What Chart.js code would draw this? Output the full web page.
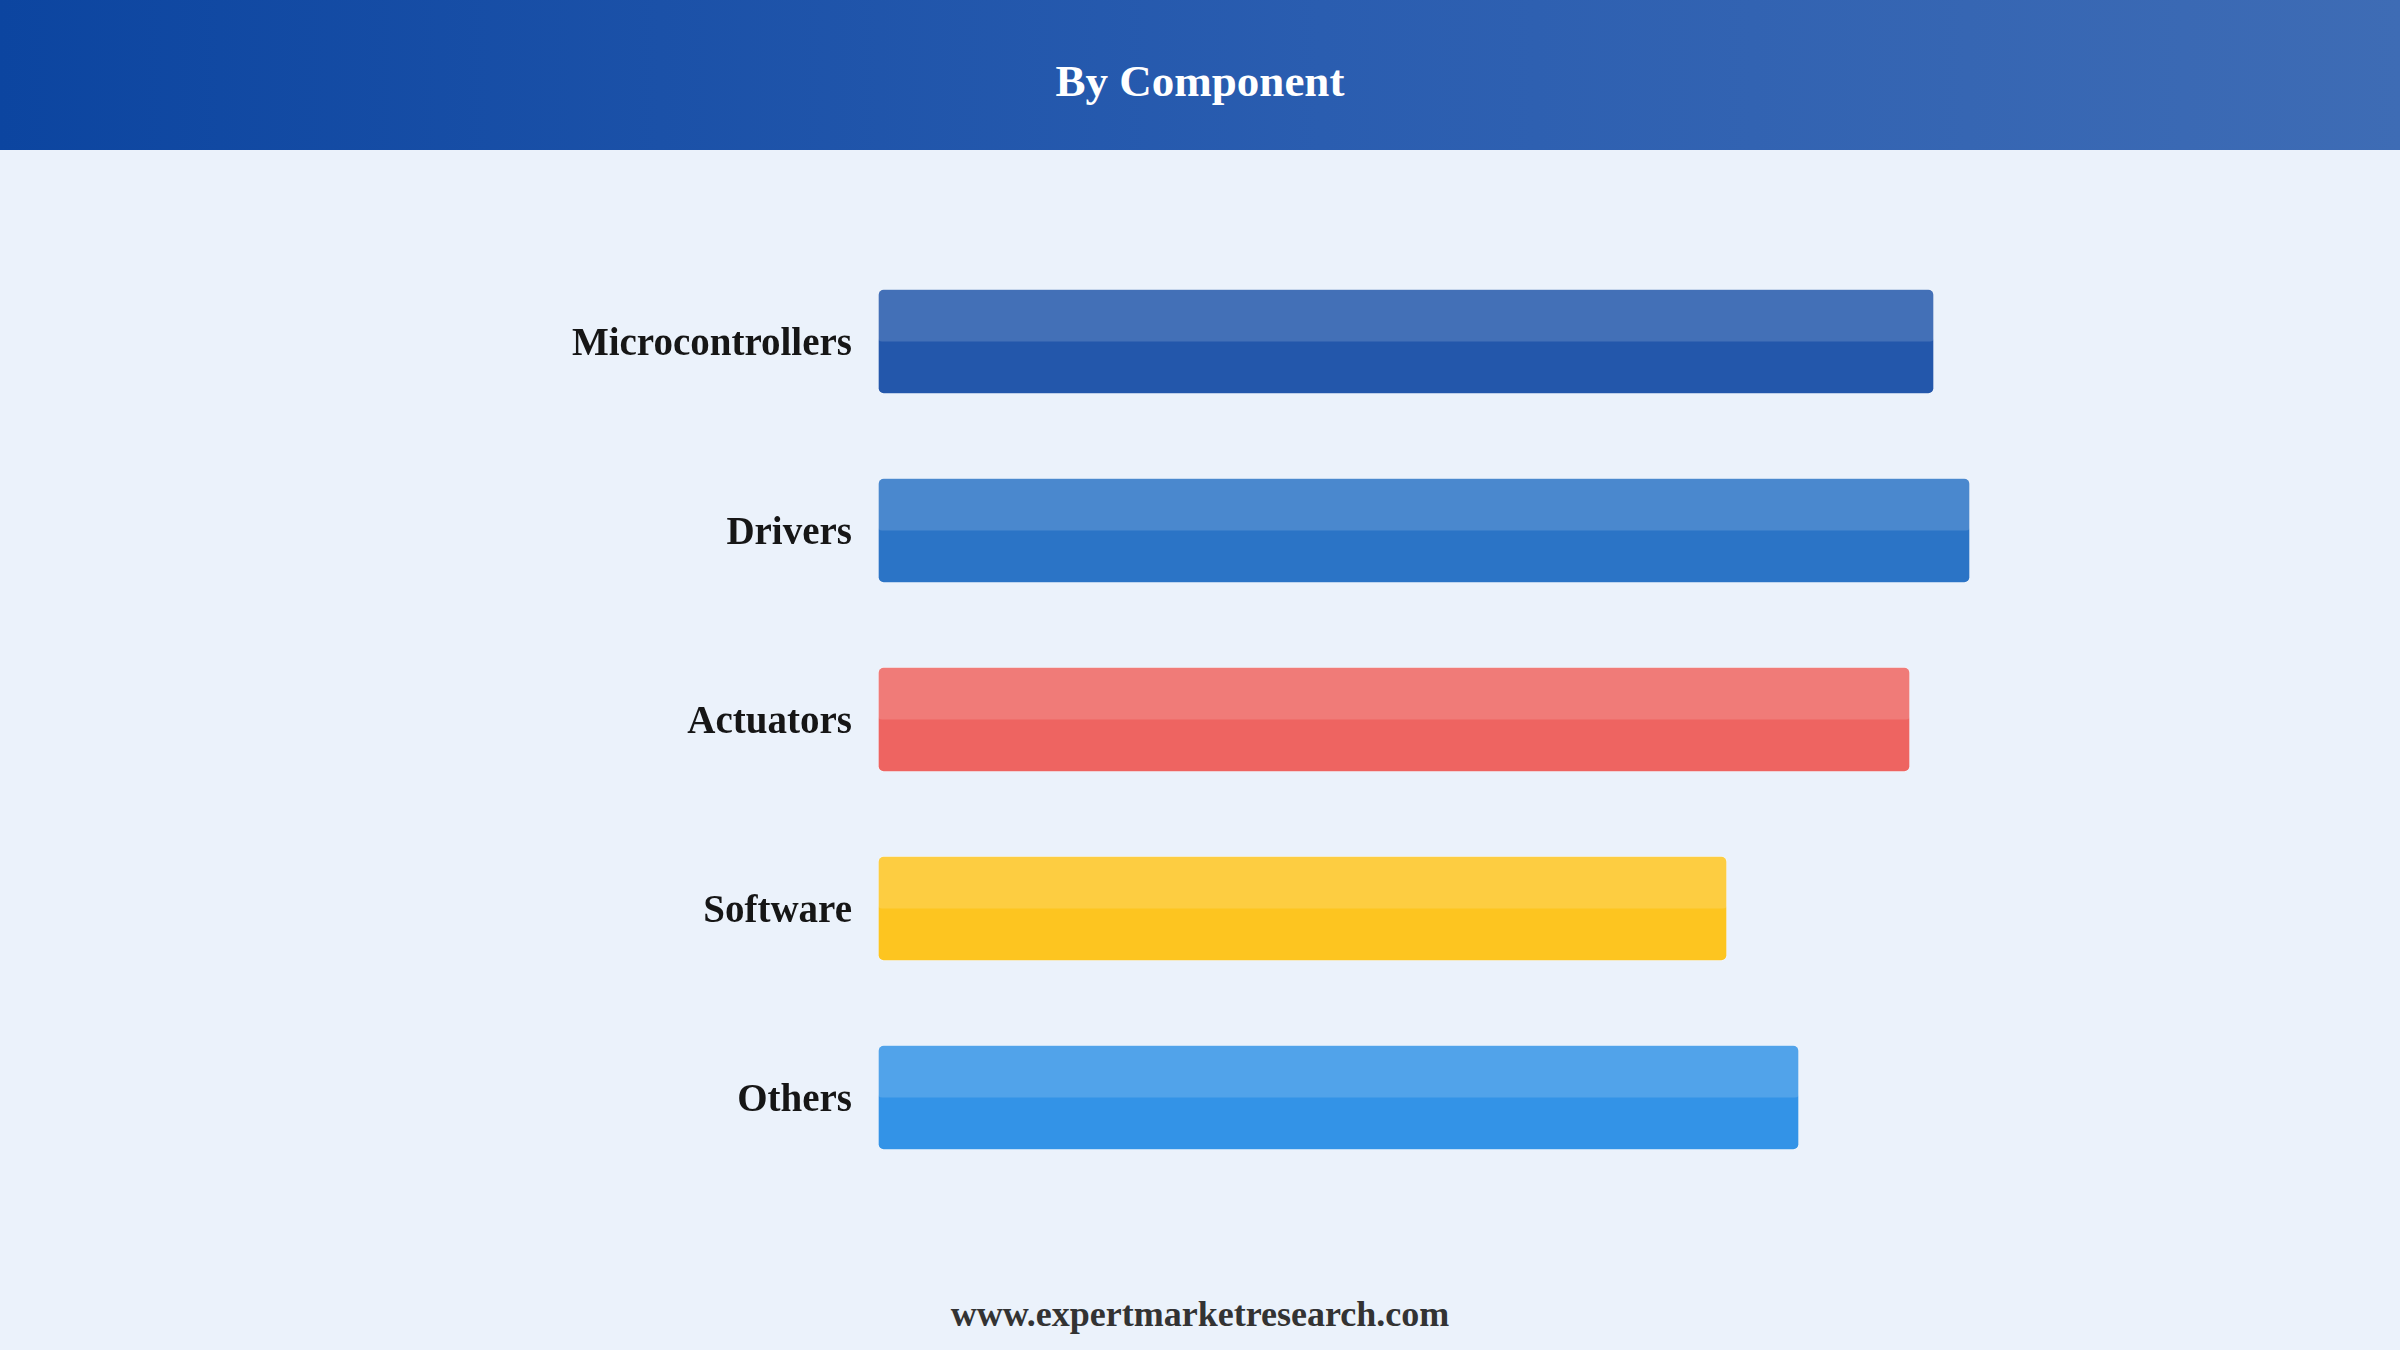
<!DOCTYPE html>
<html lang="en">
<head>
  <meta charset="UTF-8">
  <title>By Component</title>
  <script src="https://cdn.jsdelivr.net/npm/chart.js"></script>
  <style>
    body { margin: 0; width: 2400px; height: 1350px; background: #ebf2fb; overflow: hidden; position: relative; font-family: "Liberation Serif", "Times New Roman", serif; }
    .header { position: absolute; left: 0; top: 0; width: 2400px; height: 150px; background: linear-gradient(to right, #0c45a0, #2a5db0 55%, #3e6cb5); }
    .header h1 { position: absolute; left: 0; width: 2400px; top: 58px; margin: 0; font-size: 45px; line-height: 46px; font-weight: bold; color: #fff; text-align: center; }
    .chart-box { position: absolute; left: 0; top: 150px; width: 2400px; height: 1100px; }
    .footer { position: absolute; left: 0; width: 2400px; top: 1294px; font-size: 36px; line-height: 40px; font-weight: bold; color: #333; text-align: center; }
  </style>
</head>
<body>
  <div class="header"><h1>By Component</h1></div>

  <div class="chart-box">
    <canvas id="componentChart"></canvas>
  </div>

  <div class="footer">www.expertmarketresearch.com</div>

  <script>
    // Components and their (relative) share
    const categories = ['Microcontrollers', 'Drivers', 'Actuators', 'Software', 'Others'];
    const shares = [35.2, 36.4, 34.4, 28.3, 30.7];
    const barColors = ['#2357ab', '#2b74c6', '#ee6461', '#fdc520', '#3393e7'];

    // lighter top half on every bar
    const topShine = {
      id: 'topShine',
      afterDatasetsDraw(chart) {
        const ctx = chart.ctx;
        chart.getDatasetMeta(0).data.forEach(bar => {
          const left = Math.min(bar.base, bar.x);
          const w = Math.abs(bar.x - bar.base);
          const top = bar.y - bar.height / 2;
          ctx.save();
          ctx.fillStyle = 'rgba(255,255,255,0.15)';
          ctx.beginPath();
          ctx.roundRect(left, top, w, bar.height / 2, [6, 6, 4, 4]);
          ctx.fill();
          ctx.restore();
        });
      }
    };

    const chartCtx = document.getElementById('componentChart').getContext('2d');
    const componentChart = new Chart(chartCtx, {
      type: 'bar',
      data: {
        labels: categories,
        datasets: [{
          data: shares,
          backgroundColor: barColors,
          borderColor: 'rgba(255,255,255,0.25)',
          borderWidth: 1,
          borderRadius: 6,
          borderSkipped: false,
          barThickness: 105
        }]
      },
      options: {
        indexAxis: 'y',
        responsive: true,
        maintainAspectRatio: false,
        animation: false,
        layout: {
          padding: { top: 97, bottom: 58, right: 322, left: 0 }
        },
        plugins: {
          legend: { display: false },
          tooltip: { enabled: false }
        },
        scales: {
          x: {
            display: false,
            min: 0,
            max: 40
          },
          y: {
            grid: { display: false, drawTicks: false },
            border: { display: false },
            ticks: {
              padding: 26,
              labelOffset: 3,
              color: '#161616',
              font: { family: '"Liberation Serif", "Times New Roman", serif', size: 39, weight: 'bold' }
            },
            afterFit(scale) {
              scale.width = 878;
            }
          }
        }
      },
      plugins: [topShine]
    });
  </script>
</body>
</html>
